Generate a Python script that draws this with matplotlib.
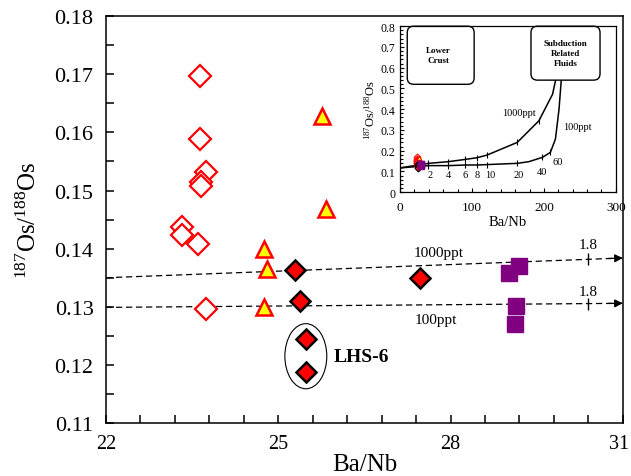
import matplotlib.pyplot as plt
from matplotlib.patches import Ellipse, FancyBboxPatch
from matplotlib.ticker import FixedLocator
from matplotlib.transforms import ScaledTranslation
import numpy as np

plt.rcParams['font.family'] = 'Liberation Serif'
plt.rcParams['mathtext.fontset'] = 'custom'
plt.rcParams['mathtext.rm'] = 'Liberation Serif'
plt.rcParams['mathtext.it'] = 'Liberation Serif:italic'
plt.rcParams['mathtext.bf'] = 'Liberation Serif:bold'

# open red diamonds
open_x = [23.63, 23.63, 23.75, 23.66, 23.66, 23.33, 23.33, 23.61, 23.75]
open_y = [0.1697, 0.1588, 0.1532, 0.1514, 0.1507, 0.1437, 0.1423, 0.1408, 0.1296]
# yellow triangles
tri_x = [25.76, 25.83, 24.76, 24.81, 24.76]
tri_y = [0.1628, 0.1468, 0.1399, 0.1365, 0.1299]
# red diamonds with black edge
dia_x = [25.29, 25.38, 27.46, 25.48, 25.48]
dia_y = [0.1363, 0.1310, 0.1349, 0.1244, 0.1187]
# purple squares
sq_x = [29.19, 29.02, 29.14, 29.12]
sq_y = [0.1370, 0.1359, 0.1301, 0.1270]

# mixing lines in main plot
mix1000_x = [22, 31]
mix1000_y = [0.1350, 0.1384]
mix100_x = [22, 31]
mix100_y = [0.1299, 0.1306]
tick18_x = 30.39

# axis ticks
x_major = [22, 25, 28, 31]
x_minor = list(np.arange(22, 31.01, 0.6))
y_major = [0.11, 0.12, 0.13, 0.14, 0.15, 0.16, 0.17, 0.18]
y_labels = ['0.11', '0.12', '0.13', '0.14', '0.15', '0.16', '0.17', '0.18']

# inset mixing curves
c1000_x = [0, 39.5, 67, 90.7, 107, 121, 163, 193, 212, 216]
c1000_y = [0.117, 0.139, 0.147, 0.158, 0.166, 0.179, 0.24, 0.344, 0.472, 0.536]
c1000_tx = [39.5, 67, 90.7, 107, 121, 163, 193]
c1000_ty = [0.139, 0.147, 0.158, 0.166, 0.179, 0.24, 0.344]
c100_x = [0, 39.5, 67, 90.7, 107, 121, 163, 179, 198, 209, 216, 221, 224]
c100_y = [0.117, 0.128, 0.128, 0.131, 0.131, 0.133, 0.139, 0.147, 0.168, 0.192, 0.256, 0.40, 0.536]
c100_tx = [39.5, 67, 90.7, 107, 121, 163, 198, 209]
c100_ty = [0.128, 0.128, 0.131, 0.131, 0.133, 0.139, 0.168, 0.192]
frac_labels = ['2', '4', '6', '8', '10', '20', '40', '60']
frac_x = [42, 67, 90.7, 107, 125.6, 165, 197, 218.6]
frac_y = [0.087, 0.087, 0.087, 0.087, 0.087, 0.087, 0.099, 0.149]
in_x_major = [0, 100, 200, 300]
in_y_major = [0, 0.1, 0.2, 0.3, 0.4, 0.5, 0.6, 0.7, 0.8]
in_y_labels = ['0', '0.1', '0.2', '0.3', '0.4', '0.5', '0.6', '0.7', '0.8']

fig = plt.figure(figsize=(6.31, 4.77), dpi=100)
ax = fig.add_axes([0.168, 0.111, 0.819, 0.853])

ax.plot(mix1000_x, mix1000_y, 'k--', lw=0.9, dashes=(5, 3))
ax.plot(mix100_x, mix100_y, 'k--', lw=0.9, dashes=(5, 3))
for lx, ly in [(mix1000_x, mix1000_y), (mix100_x, mix100_y)]:
    ax.annotate('', xy=(lx[1], ly[1]), xytext=(lx[1] - 0.25, ly[1] - (ly[1] - ly[0]) * 0.25 / 9),
                arrowprops=dict(arrowstyle='-|>', color='k', lw=0.9, mutation_scale=12, shrinkA=0, shrinkB=0))
    yt = ly[0] + (ly[1] - ly[0]) * (tick18_x - lx[0]) / (lx[1] - lx[0])
    ax.plot([tick18_x], [yt], marker='|', color='k', ms=9, mew=1)

ax.text(27.79, 0.1394, '1000ppt', fontsize=11, ha='center', va='center')
ax.text(27.74, 0.1278, '100ppt', fontsize=11, ha='center', va='center')
ax.text(tick18_x, 0.1408, '1.8', fontsize=11, ha='center', va='center')
ax.text(tick18_x, 0.1327, '1.8', fontsize=11, ha='center', va='center')

ax.plot(open_x, open_y, 'D', mfc='white', mec='red', mew=1.6, ms=11, ls='none')
ax.plot(tri_x, tri_y, '^', mfc='yellow', mec='red', mew=1.8, ms=12, ls='none')
ax.plot(dia_x, dia_y, 'D', mfc='red', mec='black', mew=1.8, ms=10, ls='none')
ax.plot(sq_x, sq_y, 's', mfc='#800080', mec='#800080', ms=11.5, ls='none')

ax.add_patch(Ellipse((25.48, 0.1215), 0.73, 0.0112, fill=False, ec='k', lw=0.8))
ax.text(26.45, 0.1215, 'LHS-6', fontsize=14, fontweight='bold', ha='center', va='center')

ax.set_xlim(22, 31)
ax.set_ylim(0.11, 0.18)
ax.xaxis.set_major_locator(FixedLocator(x_major))
ax.xaxis.set_minor_locator(FixedLocator(x_minor))
ax.yaxis.set_major_locator(FixedLocator(y_major))
ax.yaxis.set_minor_locator(FixedLocator(list(np.arange(0.115, 0.18, 0.01))))
ax.set_yticklabels(y_labels)
ax.tick_params(which='both', direction='in', length=6, width=1.1, labelsize=16, top=False, right=False)
ax.tick_params(axis='y', pad=9)
ax.tick_params(axis='x', pad=8, labelsize=14.5)
for s in ax.spines.values():
    s.set_linewidth(1.1)
ax.set_xlabel('Ba/Nb', fontsize=18, labelpad=0)
ax.set_ylabel('$^{187}$Os/$^{188}$Os', fontsize=18, labelpad=10)

# keep the last x tick label inside the figure
last = ax.get_xticklabels()[-1]
last.set_horizontalalignment('right')
last.set_transform(last.get_transform() + ScaledTranslation(6 / 100, 0, fig.dpi_scale_trans))

# inset
ai = fig.add_axes([0.634, 0.595, 0.342, 0.348])
ai.plot(c1000_x, c1000_y, 'k-', lw=1.1)
ai.plot(c100_x, c100_y, 'k-', lw=1.1)
ai.plot(c1000_tx, c1000_ty, '|', color='k', ms=4, mew=0.8)
ai.plot(c100_tx, c100_ty, '|', color='k', ms=4, mew=0.8)
for lab, fx, fy in zip(frac_labels, frac_x, frac_y):
    ai.text(fx, fy, lab, fontsize=7.5, ha='center', va='center')
ai.text(165, 0.386, '1000ppt', fontsize=7.5, ha='center', va='center')
ai.text(247, 0.318, '100ppt', fontsize=7.5, ha='center', va='center')

ai.plot(open_x, open_y, 'D', mfc='white', mec='red', mew=0.8, ms=3.5, ls='none')
ai.plot(tri_x, tri_y, '^', mfc='yellow', mec='red', mew=0.8, ms=3.5, ls='none')
ai.plot(dia_x, dia_y, 'D', mfc='red', mec='black', mew=0.8, ms=3.5, ls='none')
ai.plot(sq_x, sq_y, 's', mfc='#800080', mec='#800080', ms=5, ls='none')

asp = (0.8 / 166) / (300 / 215)
ai.add_patch(FancyBboxPatch((10, 0.52), 93, 0.28, boxstyle='round,pad=0,rounding_size=9',
                            mutation_aspect=asp, fc='white', ec='k', lw=1, clip_on=False))
ai.add_patch(FancyBboxPatch((182, 0.54), 96, 0.26, boxstyle='round,pad=0,rounding_size=9',
                            mutation_aspect=asp, fc='white', ec='k', lw=1, clip_on=False))
ai.text(53, 0.662, 'Lower\nCrust', fontsize=6.5, fontweight='bold', ha='center', va='center',
        linespacing=1.3)
ai.text(230, 0.67, 'Subduction\nRelated\nFluids', fontsize=6.5, fontweight='bold', ha='center',
        va='center', linespacing=1.3)

ai.set_xlim(0, 300)
ai.set_ylim(0, 0.8)
ai.xaxis.set_major_locator(FixedLocator(in_x_major))
ai.xaxis.set_minor_locator(FixedLocator(list(range(0, 301, 20))))
ai.yaxis.set_major_locator(FixedLocator(in_y_major))
ai.yaxis.set_minor_locator(FixedLocator(list(np.arange(0, 0.81, 0.02))))
ai.set_yticklabels(in_y_labels)
ai.tick_params(which='both', direction='in', length=3, width=0.8, labelsize=8.5, top=False, right=False)
ai.tick_params(which='minor', length=2)
ai.tick_params(axis='x', labelsize=9.5, pad=6)
for s in ai.spines.values():
    s.set_linewidth(0.9)
ai.set_xlabel('Ba/Nb', fontsize=10.5, labelpad=2)
ai.set_ylabel('$^{187}$Os/$^{188}$Os', fontsize=9, labelpad=2)

fig.savefig('out.png', dpi=100)
